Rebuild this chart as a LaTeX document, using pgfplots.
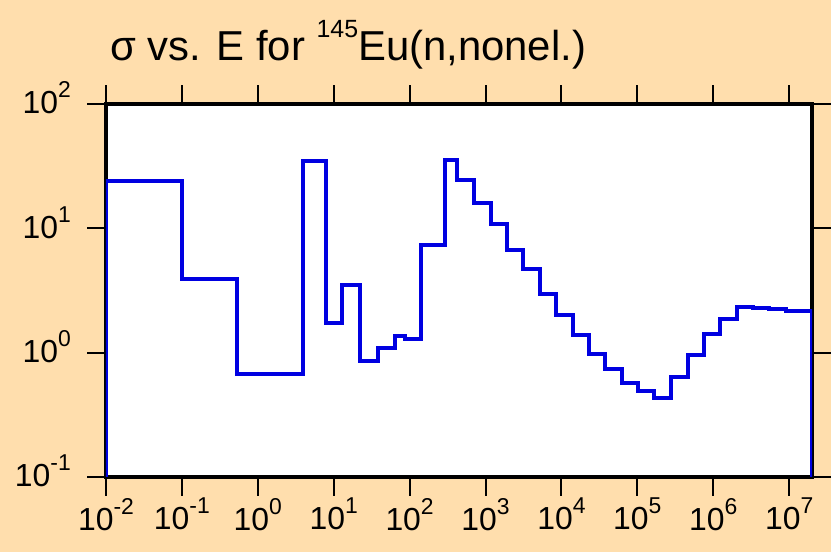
\documentclass[border=0pt]{standalone}
\usepackage{fontspec}
\setmainfont{Liberation Sans}
\usepackage{pgfplots}
\pgfplotsset{compat=1.18}
\definecolor{bgwheat}{RGB}{255,222,173}
\definecolor{lineblue}{RGB}{0,0,225}
\newcommand\lbl[1]{10\raisebox{16bp}{\fontsize{23}{23}\selectfont #1}}
\begin{document}
\begin{tikzpicture}
\path[use as bounding box, fill=bgwheat] (-106bp,-75bp) rectangle (725bp,477bp);
\node[anchor=base west, inner sep=0pt, font=\fontsize{42}{50}\selectfont] at (4bp,416bp)
  {σ vs. E for \raisebox{23bp}{\fontsize{25}{25}\selectfont 145}Eu(n,nonel.)};
\begin{axis}[
    at={(0,0)}, anchor=south west,
    scale only axis,
    width=706bp, height=373bp,
    xmode=log, ymode=log,
    xmin=1e-2, xmax=2e7,
    ymin=0.1, ymax=100,
    axis background/.style={fill=white},
    axis line style={line width=4bp, black},
    tick align=outside,
    major tick length=19bp,
    tick style={line width=2bp, black},
    xtick pos=both, ytick pos=both,
    xticklabel pos=left, yticklabel pos=left,
    xminorticks=false, yminorticks=false,
    xtick={1e-2,1e-1,1,1e1,1e2,1e3,1e4,1e5,1e6,1e7},
    xticklabels={\lbl{-2},\lbl{-1},\lbl{0},\lbl{1},\lbl{2},\lbl{3},\lbl{4},\lbl{5},\lbl{6},\lbl{7}},
    ytick={0.1,1,10,100},
    yticklabels={\lbl{-1},\lbl{0},\lbl{1},\lbl{2}},
    ticklabel style={font=\fontsize{32}{38}\selectfont},
    xticklabel style={inner sep=2bp},
    yticklabel style={inner sep=0pt, xshift=-16bp, yshift=6bp},
]
\addplot[const plot, lineblue, line width=4bp] coordinates {
(0.01,0.1) (0.01,24) (0.1,3.9) (0.53,0.67) (3.9,34.5) (8,1.72) (13,3.5)
(22,0.855) (38,1.1) (65,1.36) (87,1.28) (141,7.35) (292,35.5) (427,24.5)
(706,15.9) (1170,10.8) (1915,6.7) (3160,4.68) (5230,2.96) (8570,2.0)
(14160,1.39) (23200,0.975) (37900,0.738) (62100,0.573) (102800,0.491)
(168000,0.429) (278000,0.632) (460000,0.957) (746000,1.41) (1.23e6,1.86)
(2.04e6,2.34) (3.37e6,2.30) (5.47e6,2.25) (9.2e6,2.17) (2e7,2.17) (2e7,0.1)
};
\end{axis}
\end{tikzpicture}
\end{document}
